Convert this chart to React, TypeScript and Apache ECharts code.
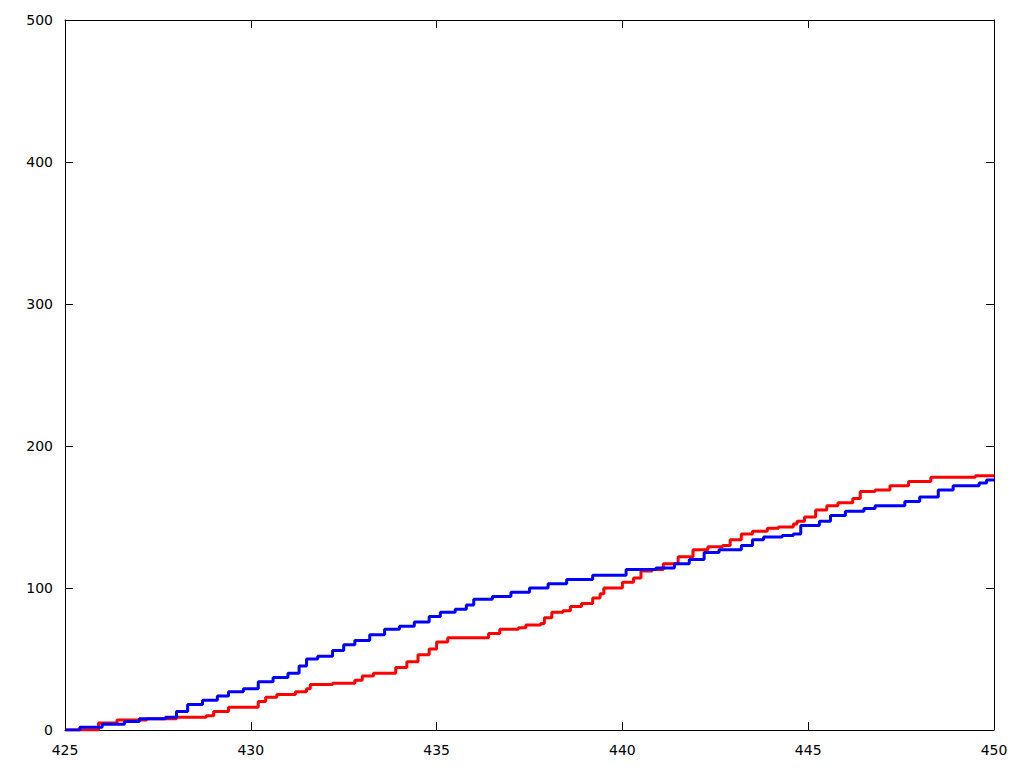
import React, { useEffect, useRef } from "react";
import * as echarts from "echarts";

const redX = [425, 425.9, 426.4, 427.2, 428.0, 428.8, 429.0, 429.4, 430.2, 430.4, 430.7, 431.2, 431.5, 431.6, 432.2, 432.8, 433.0, 433.3, 433.9, 434.2, 434.5, 434.8, 435.0, 435.3, 436.4, 436.7, 437.2, 437.4, 437.8, 437.9, 438.1, 438.4, 438.6, 438.9, 439.2, 439.4, 439.5, 440.0, 440.3, 440.5, 440.8, 441.1, 441.5, 441.9, 442.3, 442.7, 442.9, 443.2, 443.5, 443.9, 444.2, 444.6, 444.7, 444.9, 445.2, 445.5, 445.8, 446.2, 446.4, 446.8, 447.2, 447.7, 448.3, 449.5, 450];
const redY = [0, 5, 7, 8, 9, 10, 13, 16, 20, 23, 25, 27, 29, 32, 33, 35, 38, 40, 44, 48, 53, 57, 62, 65, 68, 71, 72, 74, 75, 79, 83, 84, 87, 89, 93, 96, 100, 104, 107, 112, 113, 117, 122, 127, 129, 130, 134, 138, 140, 142, 143, 145, 147, 150, 155, 158, 160, 163, 168, 169, 172, 175, 178, 179, 179];

const blueX = [425, 425.4, 426.0, 426.6, 427.0, 427.7, 428.0, 428.3, 428.7, 429.1, 429.4, 429.8, 430.2, 430.6, 431.0, 431.3, 431.5, 431.8, 432.2, 432.5, 432.8, 433.2, 433.6, 434.0, 434.4, 434.8, 435.1, 435.5, 435.8, 436.0, 436.5, 437.0, 437.5, 438.0, 438.5, 439.2, 440.1, 440.9, 441.4, 441.8, 442.2, 442.6, 443.2, 443.5, 443.8, 444.3, 444.6, 444.8, 445.3, 445.6, 446.0, 446.5, 446.8, 447.6, 448.0, 448.5, 448.9, 449.6, 449.8, 450];
const blueY = [0, 2, 4, 6, 8, 9, 13, 18, 21, 24, 27, 29, 34, 37, 40, 45, 50, 52, 56, 60, 63, 67, 71, 73, 76, 80, 83, 85, 88, 92, 94, 97, 100, 103, 106, 109, 113, 114, 117, 120, 125, 127, 130, 134, 136, 137, 138, 144, 147, 151, 154, 156, 158, 161, 164, 169, 172, 174, 176, 176];

const xTicks = [425, 430, 435, 440, 445, 450];
const yTicks = [0, 100, 200, 300, 400, 500];

export default function App() {
  const ref = useRef<HTMLDivElement>(null);
  useEffect(() => {
    if (!ref.current) return;
    const chart = echarts.init(ref.current, null, { renderer: "svg" });
    const font = { fontFamily: "DejaVu Sans", fontSize: 14, color: "#000" };
    const axisLine = { show: true, onZero: false, lineStyle: { color: "#000", width: 1 } };
    const tick = { show: true, inside: true, length: 8, lineStyle: { color: "#000", width: 1 } };
    const xMin = xTicks[0], xMax = xTicks[xTicks.length - 1];
    const yMin = yTicks[0], yMax = yTicks[yTicks.length - 1];
    chart.setOption({
      animation: false,
      backgroundColor: "#fff",
      grid: { left: 65, right: 30, top: 20, bottom: 38, containLabel: false },
      xAxis: [
        { type: "value", min: xMin, max: xMax, interval: 5, position: "bottom", axisLine, axisTick: tick,
          axisLabel: { ...font, margin: 13 }, splitLine: { show: false } },
        { type: "value", min: xMin, max: xMax, interval: 5, position: "top", axisLine, axisTick: tick,
          axisLabel: { show: false }, splitLine: { show: false } },
      ],
      yAxis: [
        { type: "value", min: yMin, max: yMax, interval: 100, position: "left", axisLine, axisTick: tick,
          axisLabel: { ...font, margin: 12 }, splitLine: { show: false } },
        { type: "value", min: yMin, max: yMax, interval: 100, position: "right", axisLine, axisTick: tick,
          axisLabel: { show: false }, splitLine: { show: false } },
      ],
      series: [
        { type: "line", step: "end", showSymbol: false, symbol: "none", data: redX.map((x, i) => [x, redY[i]]),
          lineStyle: { color: "#ff0000", width: 3 }, z: 2 },
        { type: "line", step: "end", showSymbol: false, symbol: "none", data: blueX.map((x, i) => [x, blueY[i]]),
          lineStyle: { color: "#0000ff", width: 3 }, z: 3 },
      ],
    });
    return () => chart.dispose();
  }, []);
  return <div ref={ref} style={{ position: "absolute", left: 0, top: 0, width: 1024, height: 768 }} />;
}
